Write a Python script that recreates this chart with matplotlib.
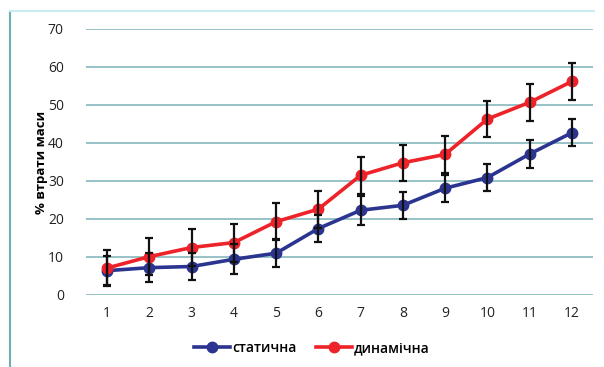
""" Mass loss curves, static vs dynamic, with error bars. """

import matplotlib
matplotlib.use("Agg")
import matplotlib.pyplot as plt
from matplotlib.lines import Line2D

days = [1, 2, 3, 4, 5, 6, 7, 8, 9, 10, 11, 12]

static_mean = [6.4, 7.2, 7.5, 9.4, 11.0, 17.5, 22.3, 23.6, 28.1, 30.9, 37.1, 42.7]
static_err = [3.8, 3.8, 3.5, 3.9, 3.7, 3.6, 3.8, 3.6, 3.6, 3.6, 3.6, 3.6]

dynamic_mean = [7.1, 10.1, 12.5, 13.8, 19.3, 22.6, 31.5, 34.8, 37.0, 46.3, 50.7, 56.2]
dynamic_err = [4.8, 4.9, 4.9, 5.0, 4.9, 4.9, 4.8, 4.8, 4.8, 4.8, 4.8, 4.9]

yticks = [0, 10, 20, 30, 40, 50, 60, 70]
labels = ["статична", "динамічна"]

BLUE = "#2B3590"
RED = "#EE2229"
GRID = "#86B8BE"

plt.rcParams['font.family'] = ['Open Sans', 'DejaVu Sans']

fig = plt.figure(figsize=(6.04, 3.67), dpi=100)
ax = fig.add_axes([86 / 604, 1 - 295 / 367, (593 - 86) / 604, 266 / 367])

ax.plot(days, static_mean, color=BLUE, linewidth=2.6, marker='o', markersize=7.5, zorder=3)
ax.plot(days, dynamic_mean, color=RED, linewidth=2.6, marker='o', markersize=7.5, zorder=4)
ax.errorbar(days, static_mean, yerr=static_err, fmt='none', ecolor='#111111',
            elinewidth=1.6, capsize=3, capthick=1.6, zorder=5)
ax.errorbar(days, dynamic_mean, yerr=dynamic_err, fmt='none', ecolor='#111111',
            elinewidth=1.6, capsize=3, capthick=1.6, zorder=5)

ax.set_xlim(0.5, 12.5)
ax.set_ylim(0, 70)
ax.set_xticks(days)
ax.set_yticks(yticks)
ax.yaxis.grid(True, color=GRID, linewidth=1.2)
ax.set_axisbelow(True)
for s in ax.spines.values():
    s.set_visible(False)
ax.tick_params(axis='both', length=0, labelsize=10, colors='#222222')
ax.tick_params(axis='y', pad=16)
ax.tick_params(axis='x', pad=8)
ax.set_ylabel("% втрати маси", fontsize=9.5, fontweight='bold', labelpad=0)

handles = [Line2D([], [], color=BLUE, linewidth=2.6, marker='o', markersize=7.5),
           Line2D([], [], color=RED, linewidth=2.6, marker='o', markersize=7.5)]
fig.legend(handles, labels, loc='center', bbox_to_anchor=(312 / 604, 1 - 348 / 367),
           ncol=2, frameon=False, prop={'size': 10, 'weight': 'semibold'},
           handlelength=2.6, handletextpad=0.15, columnspacing=1.4)

# outer frame, left and top edges
fig.add_artist(Line2D([10 / 604, 10 / 604], [0, 1 - 11 / 367], color='#6FAFB0',
                      linewidth=1.5, transform=fig.transFigure))
fig.add_artist(Line2D([10 / 604, 594 / 604], [1 - 11 / 367, 1 - 11 / 367], color='#C9EBF2',
                      linewidth=1.5, transform=fig.transFigure))

fig.savefig("out.png", dpi=100)
